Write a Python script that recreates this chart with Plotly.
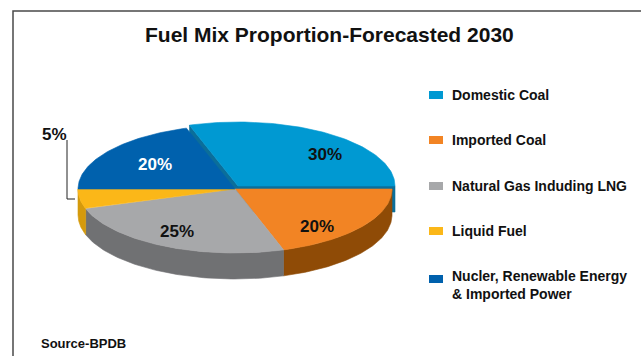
import numpy as np
import plotly.graph_objects as go

# ---- data ----
categories = [
    "Domestic Coal",
    "Imported Coal",
    "Natural Gas Induding LNG",
    "Liquid Fuel",
    "Nucler, Renewable Energy<br>& Imported Power",
]
shares = [30, 20, 25, 5, 20]

# ---- style ----
top_colors = ["#0099D2", "#F28424", "#A7A8AA", "#FBB718", "#0061AD"]
side_colors = ["#0B6E9A", "#8F4B06", "#707173", "#D59A0C", "#00498C"]
label_colors = ["#111111", "#111111", "#111111", "#111111", "#FFFFFF"]
label_xy = [(325, 154), (317, 226), (177, 231), (54, 134), (155, 164)]
legend_rows = [95, 140, 186, 231, 279]

W, H = 641, 356
CX, CY = 235, 189          # pie centre (pixels)
RX, RY = 157, 64           # ellipse radii of the tilted top face
DEPTH = 26                 # thickness of the pie
START = 108.0              # first slice begins here, slices run clockwise
EXPLODE = {0: (3, -3)}     # pulled-out slice offsets
FONT = "Liberation Sans, Arial, sans-serif"

total = float(sum(shares))
bounds = []
a = START
for v in shares:
    sweep = 360.0 * v / total
    bounds.append((a, a - sweep))
    a -= sweep


def arc(t1, t2, dx=0.0, dy=0.0, n=80):
    t = np.radians(np.linspace(t1, t2, n))
    return CX + dx + RX * np.cos(t), CY + dy - RY * np.sin(t)


def poly(fig, xs, ys, color):
    fig.add_trace(go.Scatter(
        x=list(xs) + [xs[0]], y=list(ys) + [ys[0]], mode="lines",
        fill="toself", fillcolor=color, line=dict(color=color, width=0.6),
        hoverinfo="skip", showlegend=False))


def front_parts(t_hi, t_lo):
    """Pieces of [t_lo, t_hi] that face the viewer (lower half of the ellipse)."""
    parts = []
    for k in range(-2, 3):
        lo, hi = -180 + 360 * k, 360 * k
        a_lo, a_hi = max(lo, t_lo), min(hi, t_hi)
        if a_hi > a_lo:
            parts.append((a_hi, a_lo))
    return parts


fig = go.Figure()

# radial faces of the pulled-out slice (seen through the gap)
for i, (dx, dy) in EXPLODE.items():
    for t in bounds[i]:
        ex, ey = arc(t, t, dx, dy, n=1)
        xs = [CX + dx, ex[0], ex[0], CX + dx]
        ys = [CY + dy, ey[0], ey[0] + DEPTH, CY + dy + DEPTH]
        poly(fig, xs, ys, side_colors[i])

# outer side walls
for i, (t_hi, t_lo) in enumerate(bounds):
    dx, dy = EXPLODE.get(i, (0, 0))
    for p_hi, p_lo in front_parts(t_hi, t_lo):
        x1, y1 = arc(p_hi, p_lo, dx, dy)
        x2, y2 = arc(p_lo, p_hi, dx, dy + DEPTH)
        poly(fig, np.concatenate([x1, x2]), np.concatenate([y1, y2]), side_colors[i])

# top faces, pulled-out slice last
order = [i for i in range(len(shares)) if i not in EXPLODE] + list(EXPLODE)
for i in order:
    t_hi, t_lo = bounds[i]
    dx, dy = EXPLODE.get(i, (0, 0))
    xs, ys = arc(t_hi, t_lo, dx, dy)
    poly(fig, np.concatenate([[CX + dx], xs]), np.concatenate([[CY + dy], ys]), top_colors[i])

annotations = []
shapes = []

# value labels
for i, v in enumerate(shares):
    x, y = label_xy[i]
    annotations.append(dict(
        x=x, y=y, xref="x", yref="y", text=f"<b>{v}%</b>", showarrow=False,
        font=dict(family=FONT, size=17, color=label_colors[i]),
        xanchor="center", yanchor="middle"))

# leader line for the small slice label
shapes.append(dict(type="path", xref="x", yref="y",
                   path="M 67 140 L 67 199 L 75 199",
                   line=dict(color="#222222", width=1)))

# legend
for i, name in enumerate(categories):
    yc = legend_rows[i]
    shapes.append(dict(type="rect", xref="x", yref="y", x0=429, x1=443,
                       y0=yc - 4, y1=yc + 4, fillcolor=top_colors[i],
                       line=dict(width=0)))
    ty = yc + 6 if "<br>" in name else yc
    annotations.append(dict(
        x=450, y=ty, xref="x", yref="y", text=f"<b>{name}</b>", showarrow=False,
        font=dict(family=FONT, size=14, color="#111111"),
        xanchor="left", yanchor="middle", align="left"))

# title and source
annotations.append(dict(
    x=329, y=34, xref="x", yref="y",
    text="<b>Fuel Mix Proportion-Forecasted 2030</b>", showarrow=False,
    font=dict(family=FONT, size=21, color="#111111"),
    xanchor="center", yanchor="middle"))
annotations.append(dict(
    x=39, y=343, xref="x", yref="y", text="<b>Source-BPDB</b>", showarrow=False,
    font=dict(family=FONT, size=13, color="#111111"),
    xanchor="left", yanchor="middle"))

# frame
shapes.append(dict(type="path", xref="x", yref="y",
                   path=f"M 13 {H} L 13 11 L {W} 11",
                   line=dict(color="#4A4A4A", width=1.5)))

fig.update_layout(
    width=W, height=H, margin=dict(l=0, r=0, t=0, b=0),
    paper_bgcolor="white", plot_bgcolor="white",
    xaxis=dict(range=[0, W], visible=False, fixedrange=True),
    yaxis=dict(range=[H, 0], visible=False, fixedrange=True),
    annotations=annotations, shapes=shapes, showlegend=False,
)

fig.write_html("out.html")
